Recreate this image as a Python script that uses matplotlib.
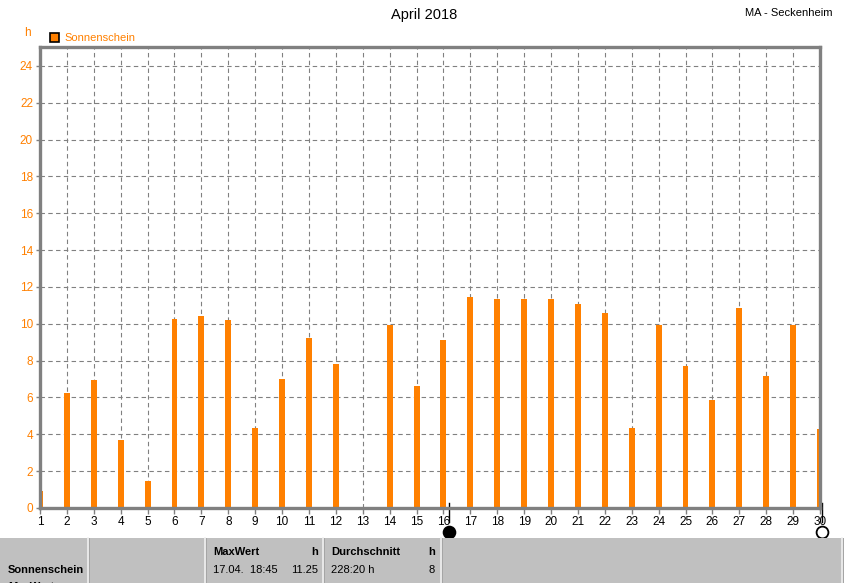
import matplotlib
matplotlib.use("Agg")
import matplotlib.pyplot as plt
from matplotlib.patches import Rectangle, Circle
from matplotlib.lines import Line2D
import matplotlib.transforms as mtransforms

# ---- data ----
days = list(range(1, 31))
sunshine = [0.9, 6.25, 6.95, 3.7, 1.45, 10.25, 10.45, 10.2, 4.35, 7.0,
            9.25, 7.8, 0.05, 9.95, 6.65, 9.1, 11.45, 11.35, 11.35, 11.35,
            11.05, 10.6, 4.35, 9.95, 7.7, 5.85, 10.85, 7.15, 9.95, 4.3]
y_ticks = list(range(0, 25, 2))
moon_days = [16.2, 30.07]
moon_kind = ["new", "full"]
title = "April 2018"
station = "MA - Seckenheim"
series_name = "Sonnenschein"
table_header = ["MaxWert", "h", "Durchschnitt", "h"]
table_values = ["17.04.  18:45", "11.25", "228:20 h", "8"]

W, H = 845, 583
ORANGE = "#ff8000"
GRAY = "#808080"
FONT = "Liberation Sans"
plt.rcParams["font.family"] = [FONT, "DejaVu Sans"]

fig = plt.figure(figsize=(W / 100, H / 100), dpi=100)

def fx(px):
    return px / W

def fy(py):
    return 1 - py / H

ax = fig.add_axes([fx(40), fy(508), fx(780), (508 - 47) / H])
ax.set_xlim(1, 30)
ax.set_ylim(0, 25.03)

ax.bar(days, sunshine, width=0.22, color=ORANGE, zorder=3, linewidth=0)

ax.set_xticks(days)
ax.set_xticklabels([str(d) for d in days])
ax.set_yticks(y_ticks)
ax.set_yticklabels([str(v) for v in y_ticks])
ax.tick_params(axis="x", colors="black", labelsize=8.5, length=4, width=1,
               color=GRAY, pad=2)
ax.tick_params(axis="y", labelcolor=ORANGE, labelsize=8.5, length=3, width=1,
               color=GRAY, pad=2)
ax.grid(True, color=GRAY, linestyle=(0, (4, 3)), linewidth=0.8, zorder=1)
ax.set_axisbelow(True)
for s in ax.spines.values():
    s.set_color(GRAY)
    s.set_linewidth(2.4)
    s.set_zorder(5)

# Title and labels
fig.text(fx(424), fy(15), title, ha="center", va="center", fontsize=10.5)
fig.text(fx(833), fy(13), station, ha="right", va="center", fontsize=8)
fig.text(fx(27), fy(33), "h", ha="center", va="center", fontsize=8.5, color=ORANGE)
fig.patches.append(Rectangle((fx(50), fy(42)), fx(9), 9 / H, transform=fig.transFigure,
                             facecolor=ORANGE, edgecolor="black", linewidth=1.2))
fig.text(fx(64), fy(38), series_name, ha="left", va="center", fontsize=8, color=ORANGE)

# Moon phases
trans = mtransforms.blended_transform_factory(ax.transData, fig.transFigure)
for d, k in zip(moon_days, moon_kind):
    ax.add_line(Line2D([d, d], [fy(503), fy(522)], transform=trans, color="black",
                       linewidth=1, clip_on=False))
    ax.plot([d], [fy(532)], marker="o", markersize=8.5, transform=trans,
            markerfacecolor="black" if k == "new" else "none",
            markeredgecolor="black", markeredgewidth=1.3, clip_on=False, zorder=10)

# Bottom table
fig.patches.append(Rectangle((0, 0), 1, (583 - 538) / H, transform=fig.transFigure,
                             facecolor="#c0c0c0", edgecolor="none", zorder=0))
for xp in [88, 205, 323, 441, 842]:
    fig.add_artist(Line2D([fx(xp), fx(xp)], [0, fy(538)], transform=fig.transFigure,
                          color="#f0f0f0", linewidth=1.2))
    fig.add_artist(Line2D([fx(xp + 1.3), fx(xp + 1.3)], [0, fy(538)], transform=fig.transFigure,
                          color="#a0a0a0", linewidth=0.6))

fig.text(fx(8), fy(570), series_name, ha="left", va="center", fontsize=8, fontweight="bold")
fig.text(fx(8), fy(587), "MaxWert", ha="left", va="center", fontsize=8, fontweight="bold")
fig.text(fx(213), fy(552), table_header[0], ha="left", va="center", fontsize=8, fontweight="bold")
fig.text(fx(318), fy(552), table_header[1], ha="right", va="center", fontsize=8, fontweight="bold")
fig.text(fx(331), fy(552), table_header[2], ha="left", va="center", fontsize=8, fontweight="bold")
fig.text(fx(435), fy(552), table_header[3], ha="right", va="center", fontsize=8, fontweight="bold")
fig.text(fx(213), fy(570), table_values[0], ha="left", va="center", fontsize=8)
fig.text(fx(318), fy(570), table_values[1], ha="right", va="center", fontsize=8)
fig.text(fx(331), fy(570), table_values[2], ha="left", va="center", fontsize=8)
fig.text(fx(435), fy(570), table_values[3], ha="right", va="center", fontsize=8)

fig.savefig("out.png", dpi=100)
